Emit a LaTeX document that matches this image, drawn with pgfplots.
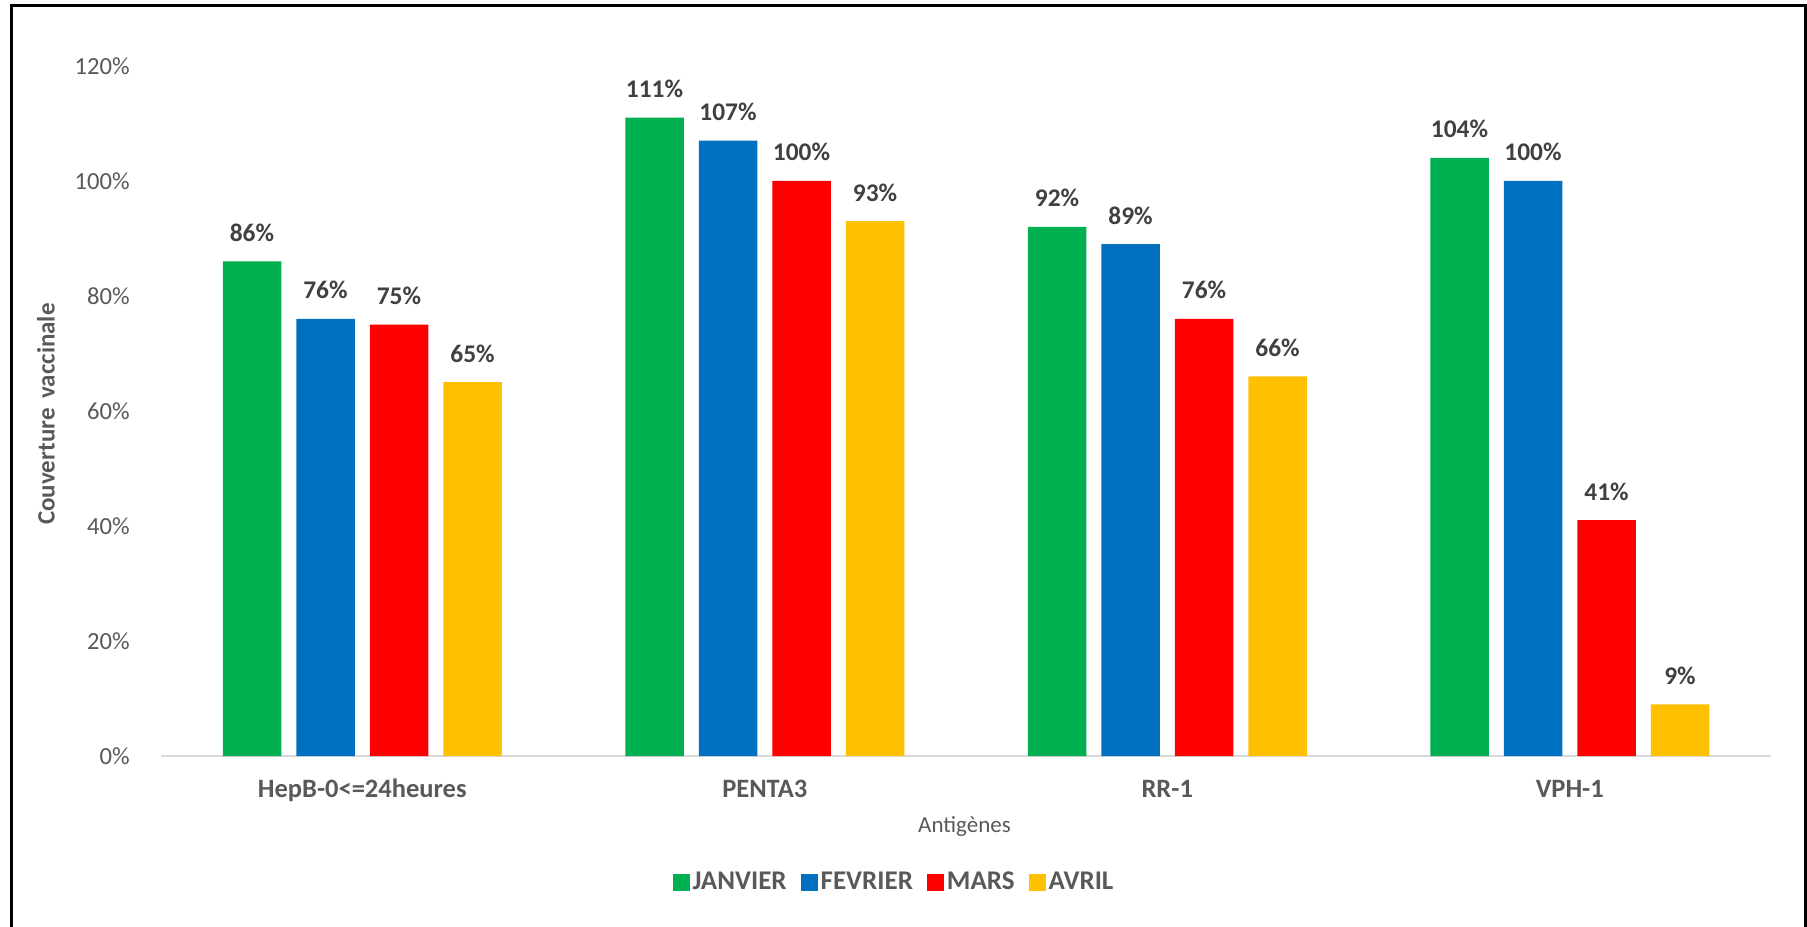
\documentclass[border=0pt]{standalone}
\usepackage{pgfplots}
\pgfplotsset{compat=1.18}
\usepackage{fontspec}
\setmainfont{Carlito}
\definecolor{cg}{HTML}{00B050}
\definecolor{cb}{HTML}{0070C0}
\definecolor{cr}{HTML}{FF0000}
\definecolor{cy}{HTML}{FFC000}
\definecolor{tgray}{HTML}{595959}
\definecolor{dgray}{HTML}{404040}
\definecolor{axgray}{HTML}{D9D9D9}
\begin{document}
\begin{tikzpicture}
\useasboundingbox (0,0) rectangle (903.5pt,463pt);
\draw[line width=1.5pt, black] (5.5pt,-10pt) -- (5.5pt,460pt) -- (902.75pt,460pt) -- (902.75pt,-10pt);
\begin{axis}[
  at={(80.5pt,85pt)}, anchor=south west,
  scale only axis, width=805pt, height=345pt,
  xmin=-0.5, xmax=3.5, ymin=0, ymax=120,
  clip=false,
  ybar=7.5pt, bar width=29.25pt,
  axis x line*=bottom, axis y line*=left,
  x axis line style={draw=axgray, line width=1.2pt, -},
  y axis line style={draw=none},
  xtick={0,1,2,3},
  xticklabels={HepB-0<=24heures, PENTA3, RR-1, VPH-1},
  ytick={0,20,40,60,80,100,120},
  major tick length=0pt,
  /pgf/number format/assume math mode=true,
  yticklabel={\pgfmathprintnumber{\tick}\%},
  yticklabel style={font=\fontsize{12.3}{14}\selectfont, text=tgray, anchor=east, inner sep=0pt, xshift=-15.5pt},
  xticklabel style={font=\fontsize{13.25}{15}\selectfont\bfseries, text=tgray, anchor=base, inner sep=0pt, yshift=-20.5pt},
  nodes near coords={\pgfmathprintnumber[fixed,precision=0]{\pgfplotspointmeta}\%},
  every node near coord/.append style={font=\fontsize{12.7}{15}\selectfont\bfseries, text=dgray, anchor=base, inner sep=0pt, yshift=10pt},
  legend columns=4,
  legend style={at={(0.4556,-0.1826)}, anchor=center, draw=none, fill=none,
    font=\fontsize{13.5}{15}\selectfont\bfseries, text=tgray,
    nodes={inner sep=1.5pt},
    /tikz/every even column/.append style={column sep=5.5pt}},
]
\addplot[fill=cg, draw=none, legend image code/.code={\fill[cg] (0pt,-4.25pt) rectangle (8.5pt,4.25pt);}] coordinates {(0,86) (1,111) (2,92) (3,104)};
\addplot[fill=cb, draw=none, legend image code/.code={\fill[cb] (0pt,-4.25pt) rectangle (8.5pt,4.25pt);}] coordinates {(0,76) (1,107) (2,89) (3,100)};
\addplot[fill=cr, draw=none, legend image code/.code={\fill[cr] (0pt,-4.25pt) rectangle (8.5pt,4.25pt);}] coordinates {(0,75) (1,100) (2,76) (3,41)};
\addplot[fill=cy, draw=none, legend image code/.code={\fill[cy] (0pt,-4.25pt) rectangle (8.5pt,4.25pt);}] coordinates {(0,65) (1,93) (2,66) (3,9)};
\legend{JANVIER, FEVRIER, MARS, AVRIL}
\end{axis}
\node[rotate=90, font=\fontsize{12.5}{15}\selectfont\bfseries, text=tgray] at (23pt,256pt) {Couverture\hspace{2pt} vaccinale};
\node[font=\fontsize{11.5}{14}\selectfont, text=tgray] at (482.25pt,49.5pt) {Antigènes};
\end{tikzpicture}
\end{document}
